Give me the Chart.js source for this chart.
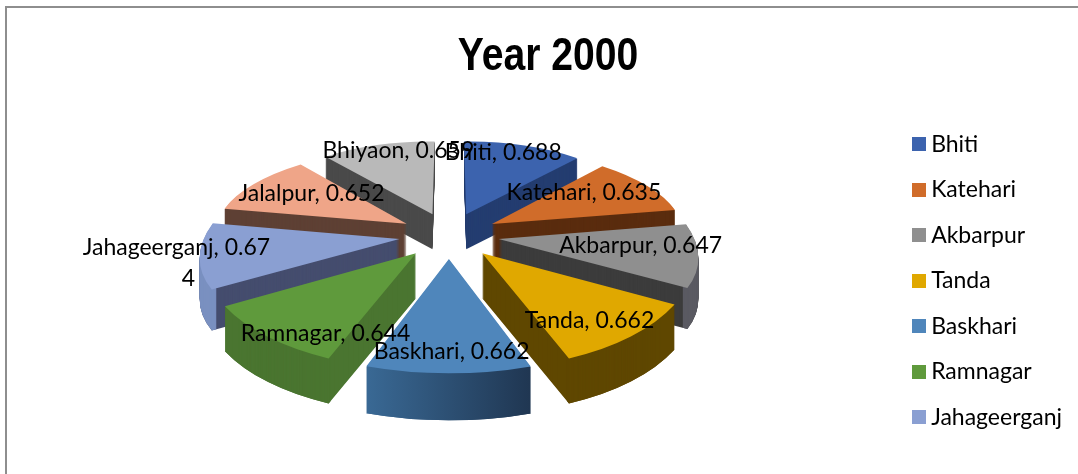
<!DOCTYPE html>
<html>
<head>
<meta charset="utf-8">
<title>Year 2000</title>
<script src="https://cdn.jsdelivr.net/npm/chart.js@4/dist/chart.umd.min.js"></script>
<style>
  html, body { margin: 0; padding: 0; background: #fff; overflow: hidden; }
  #frame { position: absolute; left: 5px; top: 6px; width: 1073px; height: 468px; border-top: 2px solid #8e8e8e; border-left: 2px solid #8e8e8e; box-sizing: border-box; }
  canvas { position: absolute; left: 0; top: 0; }
</style>
</head>
<body>
<div id="frame"></div>
<canvas id="chart" width="1078" height="474"></canvas>
<script>
const categories = ['Bhiti', 'Katehari', 'Akbarpur', 'Tanda', 'Baskhari', 'Ramnagar', 'Jahageerganj', 'Jalalpur', 'Bhiyaon']
const values = [0.688, 0.635, 0.647, 0.662, 0.662, 0.644, 0.674, 0.652, 0.659]

const topColors = ['#3c63ae', '#d06c2a', '#8f8f8f', '#e0a800', '#4f86bb', '#5f9a3c', '#8a9fd2', '#efa588', '#b9b9b9']
const wallColors = ['#243d70', '#5a2c0e', '#3c3c3c', '#5f4700', '#30577f', '#4a7530', '#454d6e', '#5e4034', '#4a4a4a']
const rimColors = [
  '#243d70', '#5a2c0e', '#5a5a62', '#5f4700',
  ['#3a6a96', '#1f3550'],
  '#4a7530', '#7a90c0', '#5e4034', '#4a4a4a'
]

// small moves of each data label away from its spot on the slice
const labelNudge = [[-7, -9], [-25, -2], [-7, -6], [-3, 7], [3, 10], [19, 20], [-74, -4], [20, 1], [8, -10]]

const LEGEND_COUNT = 7
const LABEL_WRAP = 18
const FONT = 'Lato, "Liberation Sans", sans-serif'
const TITLE_FONT = '"Liberation Sans", sans-serif'
const TITLE_SQUEEZE = 0.85

// fake 3d view
const PIE_X = 449
const PIE_Y = 235
const TILT = 0.46
const FOCAL = 1268
const EXPLODE = 50
const DEPTH = 40

function project(x, y) {
  const s = FOCAL / (FOCAL - y)
  return { x: PIE_X + x * s, y: PIE_Y + y * TILT * s, s: s }
}

function slicePoint(el, angle, dist) {
  const mid = (el.startAngle + el.endAngle) / 2
  return project(
    Math.cos(mid) * EXPLODE + Math.cos(angle) * dist,
    Math.sin(mid) * EXPLODE + Math.sin(angle) * dist
  )
}

// affine that puts the flat slice onto its projected apex and two corners
function applySlice(ctx, el) {
  const r = el.outerRadius
  const p0 = slicePoint(el, 0, 0)
  const p1 = slicePoint(el, el.startAngle, r)
  const p2 = slicePoint(el, el.endAngle, r)
  const ux = Math.cos(el.startAngle) * r, uy = Math.sin(el.startAngle) * r
  const vx = Math.cos(el.endAngle) * r, vy = Math.sin(el.endAngle) * r
  const det = ux * vy - vx * uy
  const ax = p1.x - p0.x, ay = p1.y - p0.y
  const bx = p2.x - p0.x, by = p2.y - p0.y
  const a = (ax * vy - bx * uy) / det
  const b = (ay * vy - by * uy) / det
  const c = (bx * ux - ax * vx) / det
  const d = (by * ux - ay * vx) / det
  ctx.transform(a, b, c, d, p0.x - a * el.x - c * el.y, p0.y - b * el.x - d * el.y)
}

function drawFace(ctx, el, color, drop, inner) {
  const face = Object.create(el)
  face.options = Object.assign({}, el.options, { backgroundColor: color, borderWidth: 0, offset: 0, spacing: 0 })
  if (inner) face.innerRadius = inner
  ctx.save()
  ctx.translate(0, drop)
  applySlice(ctx, el)
  face.draw(ctx)
  ctx.restore()
}

function rimStyle(ctx, el, i) {
  const rim = rimColors[i]
  if (!Array.isArray(rim)) return rim
  const half = el.outerRadius * 0.36
  const grad = ctx.createLinearGradient(el.x - half, 0, el.x + half, 0)
  grad.addColorStop(0, rim[0])
  grad.addColorStop(1, rim[1])
  return grad
}

const pie3d = {
  id: 'pie3d',
  afterLayout(chart) {
    // the reference title is a tall narrow face, none is installed
    const title = chart.titleBlock
    if (title.squeezed) return
    title.squeezed = true
    const drawTitle = title.draw
    title.draw = function () {
      const ctx = this.ctx
      const mid = (this.left + this.right) / 2
      ctx.save()
      ctx.translate(mid, 0)
      ctx.scale(TITLE_SQUEEZE, 1)
      ctx.translate(-mid, 0)
      drawTitle.apply(this, arguments)
      ctx.restore()
    }
  },
  beforeDatasetsDraw(chart) {
    const ctx = chart.ctx
    const arcs = chart.getDatasetMeta(0).data
    const mids = arcs.map(el => (el.startAngle + el.endAngle) / 2)
    const order = arcs.map((el, i) => i).sort((a, b) => Math.sin(mids[a]) - Math.sin(mids[b]))

    order.forEach(i => {
      const el = arcs[i]
      const s = slicePoint(el, mids[i], el.outerRadius * 0.7).s
      const depth = Math.round(DEPTH * s)
      const rim = rimStyle(ctx, el, i)
      for (let d = depth; d >= 1; d--) {
        drawFace(ctx, el, Array.isArray(rimColors[i]) ? rim : wallColors[i], d)
      }
      for (let d = depth; d >= 1; d--) {
        drawFace(ctx, el, rim, d, el.outerRadius - 5)
      }
      drawFace(ctx, el, topColors[i], 0)
    })
    return false
  },
  afterDraw(chart) {
    const ctx = chart.ctx
    const arcs = chart.getDatasetMeta(0).data
    ctx.save()
    ctx.font = '23px ' + FONT
    ctx.fillStyle = '#000'
    ctx.textAlign = 'center'
    ctx.textBaseline = 'middle'
    arcs.forEach((el, i) => {
      const mid = (el.startAngle + el.endAngle) / 2
      const p = slicePoint(el, mid, el.outerRadius * 0.75)
      const x = p.x + labelNudge[i][0]
      const y = p.y + labelNudge[i][1]
      const text = categories[i] + ', ' + values[i]
      if (text.length > LABEL_WRAP) {
        ctx.fillText(text.slice(0, LABEL_WRAP), x, y)
        ctx.fillText(text.slice(LABEL_WRAP), x + 12, y + 31)
      } else {
        ctx.fillText(text, x, y)
      }
    })
    ctx.restore()
  }
}

// square swatch as an image so the text can sit close to it
function swatch(color) {
  const c = document.createElement('canvas')
  c.width = 14
  c.height = 14
  const g = c.getContext('2d')
  g.fillStyle = color
  g.fillRect(0, 0, 14, 14)
  return c
}

new Chart(document.getElementById('chart'), {
  type: 'pie',
  data: {
    labels: categories,
    datasets: [{
      data: values,
      backgroundColor: topColors,
      borderWidth: 0,
      radius: 195
    }]
  },
  plugins: [pie3d],
  options: {
    responsive: false,
    animation: false,
    events: [],
    layout: { padding: { left: 24, top: 30, right: 6, bottom: 0 } },
    plugins: {
      tooltip: { enabled: false },
      title: {
        display: true,
        text: 'Year 2000',
        color: '#000',
        font: { family: TITLE_FONT, size: 46, weight: 'bold' },
        padding: { top: 0, bottom: 25 }
      },
      legend: {
        position: 'right',
        align: 'start',
        fullSize: false,
        labels: {
          color: '#111',
          font: { family: FONT, size: 23 },
          usePointStyle: true,
          pointStyleWidth: 2,
          padding: 22.5,
          generateLabels(chart) {
            return categories.slice(0, LEGEND_COUNT).map((name, i) => ({
              text: name,
              fillStyle: topColors[i],
              pointStyle: swatch(topColors[i]),
              lineWidth: 0,
              index: i
            }))
          }
        }
      }
    }
  }
})
</script>
</body>
</html>
